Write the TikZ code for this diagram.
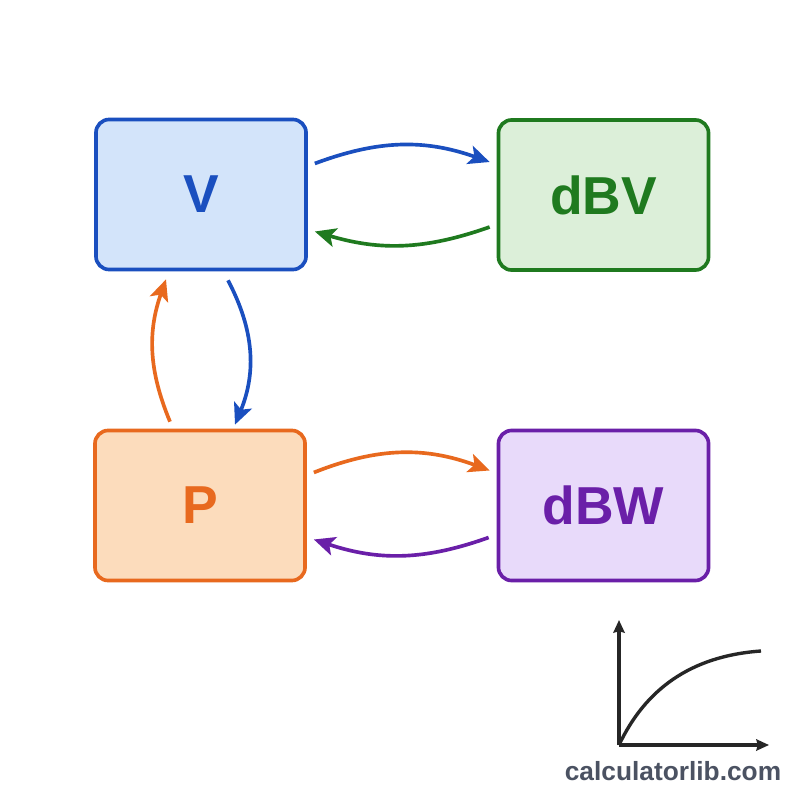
\documentclass[tikz,border=0pt]{standalone}
\usepackage{fontspec}
\setmainfont{Liberation Sans}
\usetikzlibrary{arrows.meta,calc}
\definecolor{Cv}{HTML}{1a4fbf}
\definecolor{Cg}{HTML}{1f7a1f}
\definecolor{Cp}{HTML}{e8691e}
\definecolor{Cw}{HTML}{6a1fa8}
\definecolor{Fv}{HTML}{d3e4fa}
\definecolor{Fg}{HTML}{dcefd9}
\definecolor{Fp}{HTML}{fcdcbc}
\definecolor{Fw}{HTML}{e8dafa}
\definecolor{Ck}{HTML}{262626}
\definecolor{Cs}{HTML}{4b5262}

\begin{document}
\begin{tikzpicture}[x=0.025cm, y=-0.025cm,
	box/.style={draw, line width=2.6pt, rounded corners=0.33cm,
		minimum width=5.25cm, minimum height=3.75cm,
		font=\fontsize{38}{44}\selectfont\bfseries},
	flow/.style={line width=2.6pt,
		-{Stealth[length=15pt, width=13.5pt, inset=3.5pt]}}]
	
	%% page (800 x 800 px)
	\fill[white] (0,0) rectangle (800,800);
	\useasboundingbox (0,0) rectangle (800,800);
	
	%% ── the four boxes ─────────────────────────────────────────────
	\node[box, Cv, fill=Fv, text=Cv] (V)   at (201,194.5) {V};
	\node[box, Cg, fill=Fg, text=Cg] (dBV) at (603.5,195) {dBV};
	\node[box, Cp, fill=Fp, text=Cp] (P)   at (200,505.5) {P};
	\node[box, Cw, fill=Fw, text=Cw] (dBW) at (603.5,505.5) {dBW};
	
	%% ── exchanges ──────────────────────────────────────────────────
	%% V <-> dBV
	\draw[flow, Cv] ($(V.east)+(7,-31)$)   to[bend left=20] ($(dBV.west)+(-7,-33)$);
	\draw[flow, Cg] ($(dBV.west)+(-7,32)$) to[bend left=18] ($(V.east)+(7,37)$);
	
	%% V <-> P
	\draw[flow, Cv] ($(V.south)+(27,9)$)   to[bend left=25] ($(P.north)+(35,-4)$);
	\draw[flow, Cp] ($(P.north)+(-30,-7)$) to[bend left=21] ($(V.south)+(-35,8)$);
	
	%% P <-> dBW
	\draw[flow, Cp] ($(P.east)+(7,-33)$)   to[bend left=21] ($(dBW.west)+(-7,-35)$);
	\draw[flow, Cw] ($(dBW.west)+(-8,32)$) to[bend left=19] ($(P.east)+(7,34)$);
	
	%% ── little graph icon, bottom right ────────────────────────────
	\coordinate (O)  at (619,745);
	\coordinate (Ay) at (619,620);
	\coordinate (Ax) at (769,745);
	\draw[Ck, line width=2.4pt, -{Stealth[length=9pt, width=8pt, inset=1pt]}] (O) -- (Ay);
	\draw[Ck, line width=2.4pt, -{Stealth[length=9pt, width=8pt, inset=1pt]}] (O) -- (Ax);
	\draw[Ck, line width=2.4pt] (O) .. controls (645,690) and (690,656) .. (761,651);
	
	\node[font=\fontsize{18.7}{22}\selectfont\bfseries, Cs] (site) at (673,771) {calculatorlib.com};
	
\end{tikzpicture}
\end{document}
